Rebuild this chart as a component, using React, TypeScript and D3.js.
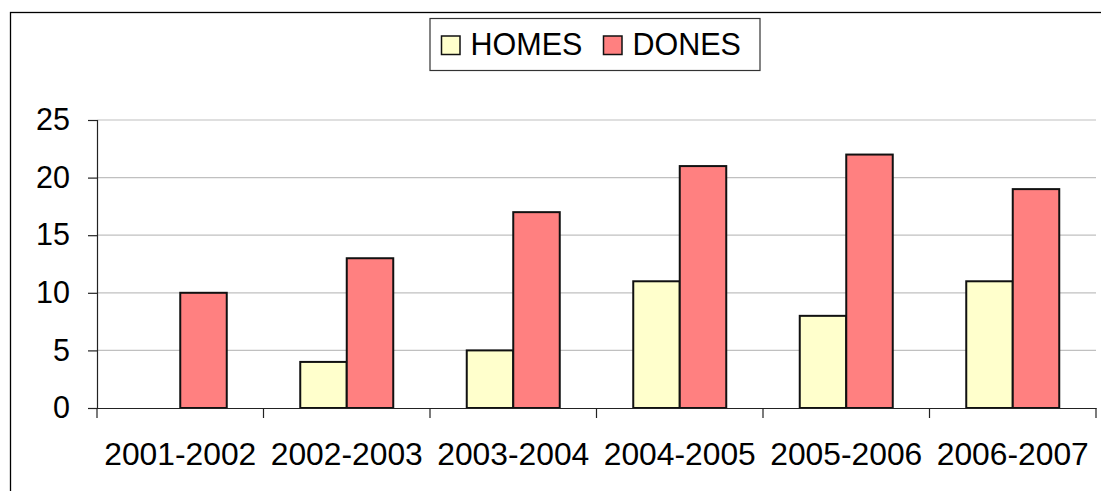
import React, { useEffect, useRef } from 'react';
import * as d3 from 'd3';

const seasons = ['2001-2002', '2002-2003', '2003-2004', '2004-2005', '2005-2006', '2006-2007'];
const homes = [0, 4, 5, 11, 8, 11];
const dones = [10, 13, 17, 21, 22, 19];
const yTicks = [0, 5, 10, 15, 20, 25];
const seriesNames = ['HOMES', 'DONES'];
const seriesColors = ['#ffffcc', '#ff8080'];

const width = 1101;
const height = 491;

const App = () => {
  const svgRef = useRef<SVGSVGElement>(null);

  useEffect(() => {
    const svg = d3.select(svgRef.current);
    svg.selectAll('*').remove();

    const left = 97;
    const right = 1096;
    const top = 120;
    const bottom = 408;
    const font = 'Liberation Sans, Arial, sans-serif';

    // outer frame (runs off the right/bottom edge in the original)
    svg
      .append('rect')
      .attr('x', 10.5)
      .attr('y', 12.5)
      .attr('width', 1100)
      .attr('height', 500)
      .attr('fill', 'white')
      .attr('stroke', 'black')
      .attr('stroke-width', 1.3);

    const x = d3.scaleBand().domain(seasons).range([left, right]);
    const y = d3.scaleLinear().domain([0, 25]).range([bottom, top]);
    const inner = d3
      .scaleBand()
      .domain(seriesNames)
      .range([0, 93])
      .padding(0);
    const groupOffset = (x.bandwidth() - 93) / 2;

    // grid
    svg
      .append('g')
      .selectAll('line')
      .data(yTicks.filter(t => t > 0))
      .join('line')
      .attr('x1', left)
      .attr('x2', right)
      .attr('y1', d => y(d))
      .attr('y2', d => y(d))
      .attr('stroke', '#c0c0c0')
      .attr('stroke-width', 1.2);

    // bars
    const rows = seasons.map((s, i) => ({ season: s, values: [homes[i], dones[i]] }));
    const groups = svg
      .append('g')
      .selectAll('g')
      .data(rows)
      .join('g')
      .attr('transform', d => `translate(${(x(d.season) as number) + groupOffset},0)`);

    groups
      .selectAll('rect')
      .data(d => d.values.map((v, k) => ({ key: seriesNames[k], v, k })).filter(e => e.v > 0))
      .join('rect')
      .attr('x', d => inner(d.key) as number)
      .attr('y', d => y(d.v))
      .attr('width', inner.bandwidth())
      .attr('height', d => bottom - y(d.v))
      .attr('fill', d => seriesColors[d.k])
      .attr('stroke', '#111')
      .attr('stroke-width', 2);

    // y axis
    const yAxis = svg
      .append('g')
      .attr('transform', `translate(${left},0)`)
      .call(d3.axisLeft(y).tickValues(yTicks).tickSize(9).tickPadding(18));
    yAxis.select('.domain').attr('stroke', '#222').attr('stroke-width', 1.2);
    yAxis.selectAll('.tick line').attr('stroke', '#222').attr('stroke-width', 1.2);
    yAxis
      .selectAll('.tick text')
      .attr('font-family', font)
      .attr('font-size', 30.5)
      .attr('fill', 'black');

    // x axis
    const xAxis = svg
      .append('g')
      .attr('transform', `translate(0,${bottom})`)
      .call(d3.axisBottom(x).tickSize(0).tickPadding(34));
    xAxis.select('.domain').attr('stroke', '#222').attr('stroke-width', 1.2);
    xAxis
      .selectAll('.tick text')
      .attr('font-family', font)
      .attr('font-size', 31.8)
      .attr('fill', 'black');

    // category separator ticks
    svg
      .append('g')
      .selectAll('line')
      .data(seasons.concat(['end']))
      .join('line')
      .attr('x1', (d, i) => left + i * x.bandwidth())
      .attr('x2', (d, i) => left + i * x.bandwidth())
      .attr('y1', bottom)
      .attr('y2', bottom + 10)
      .attr('stroke', '#222')
      .attr('stroke-width', 1.2);

    // legend
    const lg = svg.append('g');
    lg.append('rect')
      .attr('x', 430)
      .attr('y', 18.5)
      .attr('width', 330)
      .attr('height', 52)
      .attr('fill', 'white')
      .attr('stroke', '#333')
      .attr('stroke-width', 1.2);
    const legendX = [441.5, 603.5];
    seriesNames.forEach((name, i) => {
      lg.append('rect')
        .attr('x', legendX[i])
        .attr('y', 36)
        .attr('width', 18.5)
        .attr('height', 18.5)
        .attr('fill', seriesColors[i])
        .attr('stroke', '#111')
        .attr('stroke-width', 1.5);
      lg.append('text')
        .attr('x', legendX[i] + 29)
        .attr('y', 55)
        .attr('font-family', font)
        .attr('font-size', 30.5)
        .attr('fill', 'black')
        .text(name);
    });
  }, []);

  return (
    <svg
      ref={svgRef}
      width={width}
      height={height}
      style={{ position: 'absolute', left: 0, top: 0, background: 'white' }}
    ></svg>
  );
};

export default App;
